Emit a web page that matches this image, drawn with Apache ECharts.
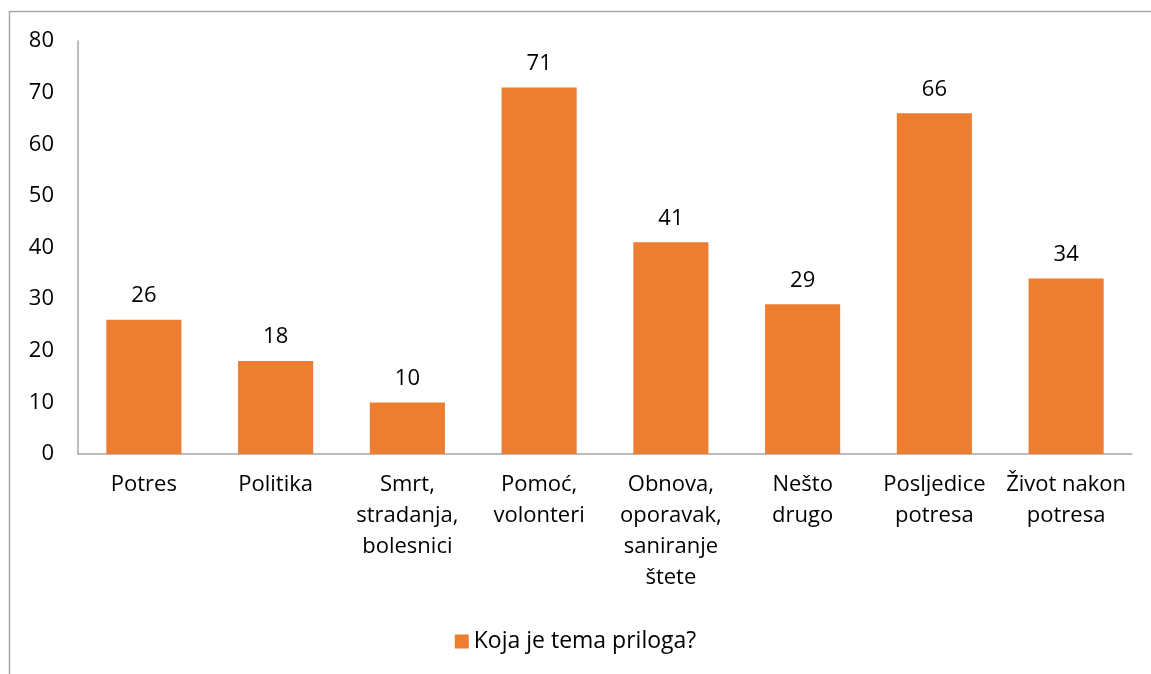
<!DOCTYPE html>
<html>
<head>
<meta charset="utf-8">
<script src="https://cdn.jsdelivr.net/npm/echarts@6/dist/echarts.min.js"></script>
<style>
  html, body { margin: 0; padding: 0; background: #fff; }
  #chart { width: 1151px; height: 674px; }
</style>
</head>
<body>
<div id="chart"></div>
<script>
// categories and values
const categories = [
  'Potres',
  'Politika',
  'Smrt,\nstradanja,\nbolesnici',
  'Pomoć,\nvolonteri',
  'Obnova,\noporavak,\nsaniranje\nštete',
  'Nešto\ndrugo',
  'Posljedice\npotresa',
  'Život nakon\npotresa'
];
const values = [26, 18, 10, 71, 41, 29, 66, 34];
const seriesName = 'Koja je tema priloga?';

const font = '"Open Sans", "Noto Sans", sans-serif';
const fs = 22;

const chart = echarts.init(document.getElementById('chart'));
chart.setOption({
  animation: false,
  textStyle: { fontFamily: font },
  graphic: [{
    type: 'rect',
    shape: { x: 9.5, y: 11.5, width: 1200, height: 700 },
    style: { fill: 'none', stroke: '#a6a6a6', lineWidth: 1.5 },
    silent: true
  }],
  grid: { left: 78, right: 19, top: 41, bottom: 220, containLabel: false },
  legend: {
    bottom: 16,
    left: 'center',
    itemWidth: 14,
    itemHeight: 14,
    itemGap: 8,
    icon: 'rect',
    textStyle: { fontSize: 23, color: '#000', fontFamily: font },
    data: [seriesName]
  },
  xAxis: {
    type: 'category',
    data: categories,
    axisLine: { lineStyle: { color: '#a6a6a6', width: 1.5 } },
    axisTick: { show: false },
    axisLabel: {
      fontSize: fs, color: '#000', lineHeight: 31, margin: 15,
      interval: 0, fontFamily: font
    }
  },
  yAxis: {
    type: 'value',
    min: 0, max: 80, interval: 10,
    axisLine: { show: true, lineStyle: { color: '#a6a6a6', width: 1.5 } },
    axisTick: { show: false },
    splitLine: { show: false },
    axisLabel: { fontSize: fs, color: '#000', margin: 24, fontFamily: font }
  },
  series: [{
    name: seriesName,
    type: 'bar',
    data: values,
    barWidth: '57%',
    itemStyle: { color: '#ED7D31' },
    label: {
      show: true, position: 'top', distance: 13,
      fontSize: fs, color: '#000', fontFamily: font
    }
  }]
});
</script>
</body>
</html>
